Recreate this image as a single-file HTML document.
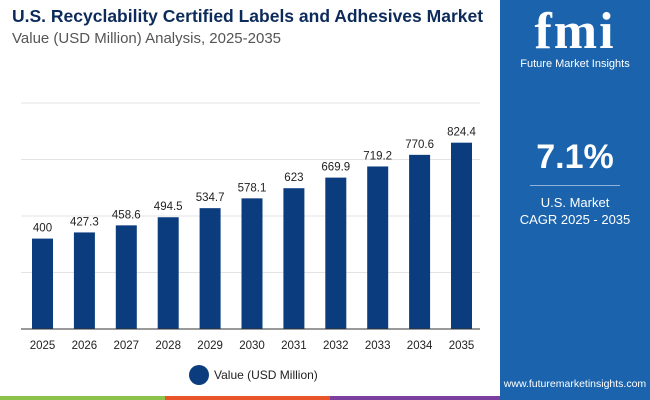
<!DOCTYPE html>
<html><head><meta charset="utf-8"><style>
body{margin:0;width:650px;height:400px;overflow:hidden;background:#fff;font-family:"Liberation Sans",sans-serif;position:relative}
.t1{position:absolute;left:12px;top:6px;font-size:17.5px;font-weight:bold;color:#0d2b5a}
.t2{position:absolute;left:12px;top:30px;font-size:15px;color:#555}
.panel{position:absolute;left:500px;top:0;width:150px;height:400px;background:#1b64ad;color:#fff;text-align:center}
</style></head><body>
<div class="t1">U.S. Recyclability Certified Labels and Adhesives Market</div>
<div class="t2">Value (USD Million) Analysis, 2025-2035</div>
<div class="panel">
<div style="position:absolute;left:0;width:150px;top:2px;font-size:52px;font-weight:bold;font-family:'Liberation Serif',serif;letter-spacing:2px">fmi</div>
<div style="position:absolute;left:0;width:150px;top:58px;font-size:11px">Future Market Insights</div>
<div style="position:absolute;left:0;width:150px;top:138px;font-size:34px;font-weight:bold">7.1%</div>
<div style="position:absolute;left:30px;width:90px;top:185px;border-top:1px solid #8fb3da"></div>
<div style="position:absolute;left:0;width:150px;top:194px;font-size:13px;line-height:17px">U.S. Market<br>CAGR 2025 - 2035</div>
<div style="position:absolute;left:0;width:150px;top:378px;font-size:10.5px">www.futuremarketinsights.com</div>
</div>
<svg id="c" width="500" height="400" style="position:absolute;left:0;top:0"></svg>
<div style="position:absolute;left:0;top:396px;width:650px;height:4px;background:linear-gradient(90deg,#8bc34a 0 165px,#e8552b 165px 330px,#7b3fa0 330px 500px,#1b64ad 500px)"></div>
<script>
const years=["2025","2026","2027","2028","2029","2030","2031","2032","2033","2034","2035"];
const values=[400,427.3,458.6,494.5,534.7,578.1,623,669.9,719.2,770.6,824.4];
const labels=["400","427.3","458.6","494.5","534.7","578.1","623","669.9","719.2","770.6","824.4"];
const gridTicks=[0,250,500,750,1000];
const svg=document.getElementById('c');const NS='http://www.w3.org/2000/svg';
const y0=329,yScale=v=>y0-v*0.226;const xC=i=>42.5+i*41.9;
function mk(t,a,p){const e=document.createElementNS(NS,t);for(const k in a)e.setAttribute(k,a[k]);(p||svg).appendChild(e);return e;}
gridTicks.forEach(g=>{if(g===0)return;const l=mk('line',{x1:21,x2:480,y1:yScale(g),y2:yScale(g),stroke:'#e3e3e3'});

});
values.forEach((v,i)=>{const r=mk('rect',{x:xC(i)-10.5,y:yScale(v),width:21,height:y0-yScale(v),fill:'#0b3d7e'});


const t=mk('text',{x:xC(i),y:yScale(v)-7,'text-anchor':'middle','font-size':11.5,fill:'#222'});t.textContent=labels[i];


const yl=mk('text',{x:xC(i),y:349,'text-anchor':'middle','font-size':11.5,fill:'#222'});yl.textContent=years[i];

});
const ax=mk('line',{x1:21,x2:480,y1:y0,y2:y0,stroke:'#333'});


const lc=mk('circle',{cx:199,cy:375,r:10,fill:'#0b3d7e'});


const lt=mk('text',{x:214,y:379,'font-size':12,fill:'#222'});lt.textContent='Value (USD Million)';


</script>
</body></html>
